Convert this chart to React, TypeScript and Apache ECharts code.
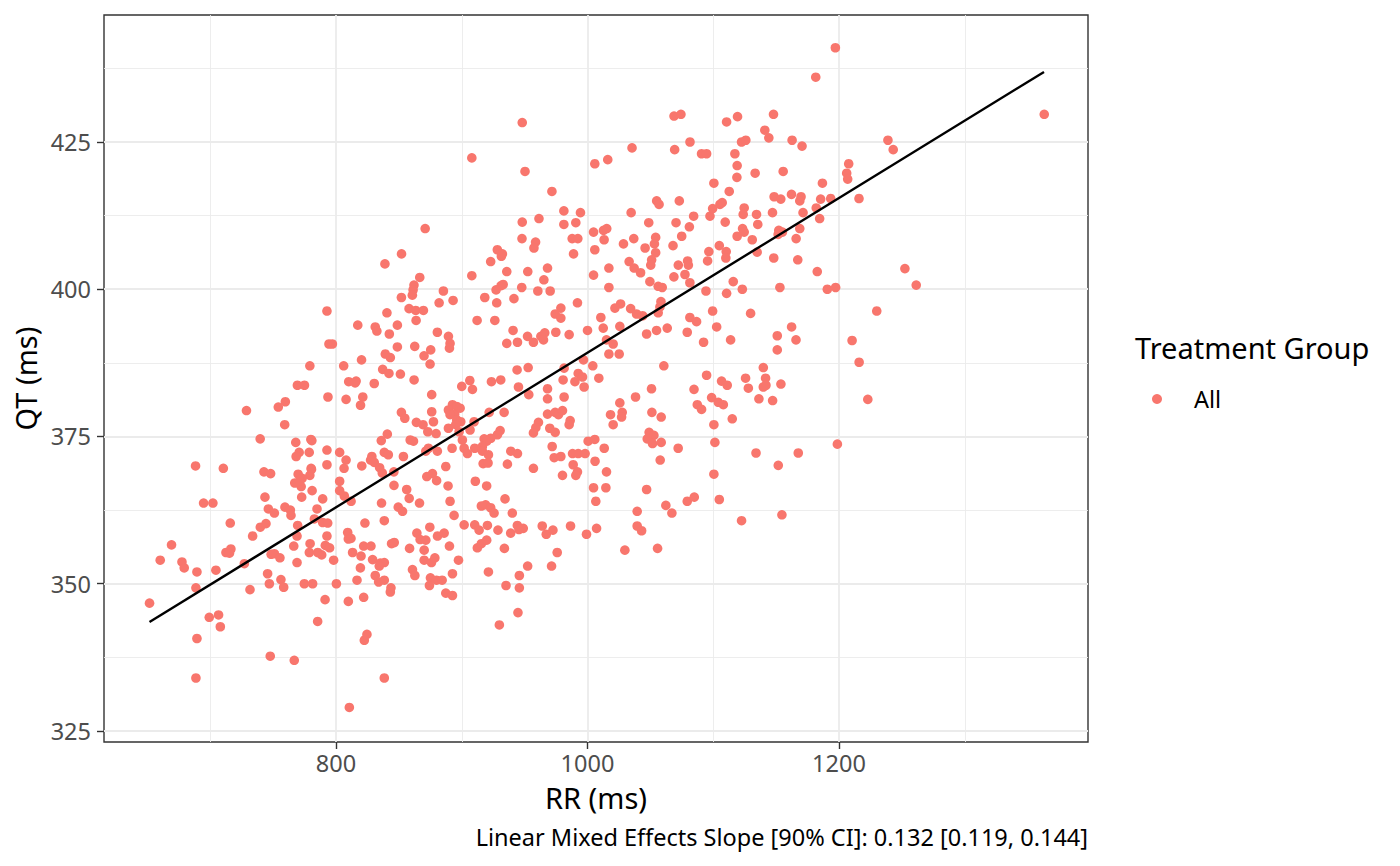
import React, { useEffect, useRef } from "react";
import * as echarts from "echarts";

const rrQtPairs: [number, number][] = [
  [948.1, 428.3], [908.0, 422.3], [950.3, 420.0], [971.7, 416.6], [870.9, 410.3], [981.2, 413.3], [994.4, 413.0],
  [948.1, 411.4], [961.4, 412.0], [981.2, 411.0], [990.7, 411.3], [947.9, 408.6], [987.8, 408.6], [992.3, 408.6],
  [958.7, 408.0], [957.4, 407.0], [852.1, 406.0], [838.9, 404.3], [928.3, 406.7], [932.3, 406.0], [931.5, 405.6],
  [923.0, 404.7], [988.9, 406.0], [1005.8, 421.3], [1004.8, 409.7], [1005.8, 406.7],
  [1197.1, 441.0], [1181.5, 436.0], [1068.8, 429.4], [1074.3, 429.7], [1119.3, 429.3], [1110.6, 428.4], [1147.9, 429.7],
  [1141.0, 427.0], [1144.2, 425.7], [1122.5, 425.0], [1125.9, 425.3], [1162.7, 425.3], [1170.6, 424.3], [1081.5, 425.0],
  [1035.4, 424.0], [1069.3, 423.7], [1016.1, 422.0], [1090.7, 423.0], [1094.7, 423.0], [1117.2, 423.0], [1119.0, 421.0],
  [1118.8, 419.0], [1133.3, 419.7], [1155.6, 420.0], [1100.5, 418.0], [1112.7, 416.6], [1186.8, 418.0], [1055.0, 415.0],
  [1056.9, 414.4], [1073.0, 415.0], [1148.4, 415.7], [1153.7, 415.3], [1162.2, 416.1], [1169.8, 415.7], [1168.8, 415.0],
  [1185.4, 415.3], [1193.4, 415.4], [1181.9, 413.8], [1184.6, 412.0], [1034.7, 413.0], [1048.7, 411.3], [1070.4, 411.3],
  [1084.4, 412.4], [1081.0, 410.6], [1097.4, 412.4], [1099.5, 413.7], [1105.3, 414.4], [1107.1, 414.7], [1124.6, 413.8],
  [1123.8, 412.7], [1134.4, 412.7], [1135.4, 411.0], [1109.5, 411.4], [1147.1, 413.0], [1171.4, 413.0], [1123.3, 410.3],
  [1124.6, 409.7], [1119.0, 409.0], [1131.0, 408.4], [1152.1, 410.0], [1155.0, 409.7], [1151.6, 409.3], [1168.8, 410.3],
  [1165.9, 408.6], [1012.7, 410.0], [1015.3, 410.3], [1013.2, 408.4], [1028.6, 407.7], [1036.8, 408.6], [1045.8, 407.0],
  [1054.2, 408.8], [1053.2, 407.7], [1054.2, 406.2], [1051.0, 405.0], [1068.0, 407.4], [1074.9, 409.0], [1104.8, 407.4],
  [1110.3, 406.4], [1110.0, 405.3], [1096.5, 406.4], [1095.5, 404.8], [1134.9, 406.3], [1148.1, 405.3], [1167.2, 405.0],
  [1033.1, 404.7], [1079.6, 404.8], [1080.2, 404.1], [1072.2, 404.1], [1050.3, 404.1],
  [1363.2, 429.7], [1238.9, 425.3], [1243.1, 423.7], [1207.7, 421.3], [1206.1, 419.7], [1206.9, 418.7], [1215.9, 415.4],
  [1252.4, 403.5],
  [852.0, 398.6], [792.8, 396.3], [840.5, 396.0], [817.3, 393.9], [831.2, 393.6], [832.5, 392.9], [842.4, 392.4],
  [848.8, 393.9], [794.4, 390.7], [797.1, 390.7], [848.8, 390.2], [839.2, 389.0], [843.2, 388.4], [820.3, 388.0],
  [779.2, 387.0], [806.1, 387.0], [837.1, 386.4], [842.1, 385.7], [851.2, 385.6], [810.1, 384.3], [816.0, 384.4],
  [815.2, 384.1], [830.4, 384.0], [769.3, 383.7], [774.9, 383.7], [793.6, 381.7], [808.0, 381.3], [821.3, 381.7],
  [819.5, 380.3], [759.7, 380.9], [754.1, 380.0], [728.8, 379.4], [852.0, 379.1], [759.2, 377.0], [840.8, 375.4],
  [836.0, 374.3], [739.7, 374.6], [780.0, 374.5], [780.8, 374.3], [768.0, 374.0], [778.7, 372.3], [770.7, 372.3],
  [768.3, 371.6], [792.8, 372.7], [802.9, 372.3], [808.0, 371.0], [806.4, 369.6], [838.4, 372.3], [841.6, 371.9],
  [828.5, 371.6], [827.5, 371.0], [830.4, 370.6], [834.7, 369.7], [836.8, 368.8], [820.5, 370.0], [688.3, 370.0],
  [710.4, 369.6], [742.7, 369.0], [748.0, 368.7], [780.2, 369.6], [792.8, 370.2], [780.5, 369.4], [779.2, 368.4],
  [769.9, 368.6], [773.1, 367.9], [767.2, 367.1], [772.3, 366.5], [771.2, 367.5], [802.9, 367.4], [781.0, 365.8],
  [802.9, 365.8], [846.1, 366.7], [846.0, 369.0],
  [866.6, 402.0], [862.0, 400.7], [861.3, 399.9], [860.7, 399.0], [885.4, 399.7], [882.0, 397.7], [893.1, 398.1],
  [858.1, 396.7], [863.4, 396.4], [869.5, 396.4], [863.7, 394.7], [908.0, 402.3], [935.8, 403.0], [952.5, 403.0],
  [968.2, 403.6], [1004.8, 402.4], [931.3, 400.6], [927.3, 399.9], [932.9, 400.8], [947.7, 400.3], [965.3, 401.6],
  [960.5, 399.7], [970.3, 399.7], [918.3, 398.6], [927.8, 397.7], [941.5, 398.4], [992.0, 397.7], [978.8, 396.8],
  [974.3, 395.8], [978.8, 395.1], [1010.6, 395.2], [912.2, 394.7], [926.3, 394.7], [880.6, 392.7], [889.4, 392.0],
  [890.7, 390.8], [890.2, 390.0], [862.6, 390.3], [875.3, 389.7], [870.0, 388.7], [874.8, 387.3], [940.8, 393.0],
  [935.8, 390.8], [944.3, 391.0], [952.3, 392.0], [957.0, 391.0], [962.9, 392.0], [966.0, 392.6], [965.0, 391.4],
  [974.8, 392.7], [985.4, 392.3], [1000.0, 393.0], [862.1, 384.6], [944.0, 386.3], [952.8, 386.7], [981.4, 386.6],
  [1004.2, 387.0], [996.8, 388.0], [992.6, 385.7], [996.0, 385.1], [990.0, 384.3], [997.3, 383.4], [980.6, 384.6],
  [1009.0, 384.9], [906.4, 384.5], [900.0, 383.5], [908.5, 383.0], [923.6, 384.3], [931.0, 384.6], [945.1, 383.4],
  [953.3, 382.1], [968.2, 383.1], [968.2, 381.4], [981.4, 381.7], [876.1, 382.1], [876.1, 379.2], [854.7, 378.1],
  [863.9, 377.4], [869.2, 377.0], [877.5, 377.5], [873.0, 375.8], [879.6, 375.5], [892.6, 380.4], [896.0, 380.1],
  [889.4, 379.5], [894.4, 378.8], [898.7, 379.8], [890.7, 378.7], [896.0, 377.8], [899.2, 377.5], [895.2, 377.0],
  [889.4, 376.4], [897.9, 375.8], [909.8, 377.5], [906.6, 376.1], [921.8, 379.1], [933.7, 379.1], [968.2, 378.8],
  [974.3, 379.1], [976.9, 378.7], [980.1, 379.4], [986.2, 377.7], [985.4, 377.0], [961.0, 377.4], [958.9, 376.5],
  [957.0, 375.6], [970.0, 376.4], [974.3, 375.7], [930.5, 376.0], [928.4, 375.3], [923.1, 374.7], [917.8, 374.6],
  [919.9, 374.2], [916.4, 373.3], [910.3, 373.0], [916.4, 372.5], [900.5, 374.4], [901.9, 373.0], [892.3, 373.0],
  [880.6, 372.5], [871.4, 372.5], [873.5, 373.0], [859.0, 374.4], [861.6, 374.2], [853.6, 371.6], [904.5, 372.1],
  [921.2, 371.9], [939.0, 372.5], [944.3, 372.1], [936.3, 370.3], [957.0, 369.6], [971.9, 373.3], [973.5, 371.4],
  [978.8, 371.6], [988.1, 372.1], [992.6, 372.1], [998.1, 372.1], [1000.5, 374.2], [1005.8, 374.5], [988.6, 370.2],
  [992.0, 369.0], [990.7, 368.4], [1006.0, 370.8], [980.1, 368.4], [1004.8, 366.3], [887.3, 369.9], [876.7, 368.7],
  [872.2, 368.2], [880.0, 367.5], [889.1, 366.6], [910.8, 367.4], [919.8, 366.6], [917.0, 370.4], [920.9, 370.5],
  [856.2, 366.0],
  [1017.0, 403.6], [1017.0, 400.3], [1037.1, 403.6], [1042.2, 402.8], [1049.6, 401.3], [1056.2, 400.5], [1059.4, 400.3],
  [1068.7, 402.1], [1077.5, 402.5], [1081.4, 401.1], [1094.2, 399.7], [1115.9, 401.3], [1110.6, 399.3], [1123.1, 400.0],
  [1153.0, 400.3], [1058.4, 397.9], [1057.6, 397.0], [1026.3, 397.5], [1021.8, 396.8], [1034.3, 396.7], [1039.0, 395.8],
  [1043.8, 395.5], [1056.2, 396.0], [1012.5, 393.4], [1025.7, 393.7], [1015.1, 391.4], [1020.4, 390.7], [1017.0, 389.0],
  [1025.2, 389.0], [1047.0, 392.4], [1054.9, 393.0], [1063.4, 393.4], [1079.3, 392.7], [1081.4, 395.2], [1086.7, 394.5],
  [1099.5, 396.3], [1102.7, 393.6], [1092.3, 391.0], [1113.8, 391.4], [1129.7, 395.9], [1150.9, 392.1], [1150.9, 389.7],
  [1162.3, 393.6], [1165.8, 391.4], [1060.7, 387.0], [1094.7, 385.4], [1084.7, 383.0], [1106.6, 384.4], [1111.1, 383.7],
  [1098.7, 381.6], [1104.0, 380.8], [1108.0, 380.4], [1087.3, 380.4], [1090.7, 379.6], [1115.1, 378.0], [1100.5, 377.0],
  [1050.9, 383.1], [1038.2, 381.7], [1025.7, 380.7], [1018.3, 378.7], [1027.6, 379.1], [1027.1, 378.3], [1020.4, 377.0],
  [1051.2, 379.1], [1058.6, 378.3], [1125.7, 384.9], [1127.9, 383.2], [1139.8, 386.7], [1141.6, 384.9], [1139.8, 383.4],
  [1141.9, 383.7], [1153.8, 383.9], [1136.3, 381.4], [1147.2, 381.1], [1049.0, 375.7], [1052.8, 375.2], [1047.5, 374.6],
  [1051.7, 373.8], [1058.6, 374.0], [1072.1, 373.0], [1101.3, 374.0], [1013.3, 373.0], [1057.8, 371.0], [1015.1, 369.0],
  [1014.6, 366.3], [1047.0, 366.0], [1100.5, 368.6], [1134.0, 372.2], [1151.7, 370.1], [1167.6, 372.2],
  [1182.7, 403.0], [1190.7, 400.0], [1197.3, 400.3], [1261.4, 400.7], [1230.0, 396.3], [1210.4, 391.3], [1216.0, 387.6],
  [1222.9, 381.3], [1198.7, 373.7],
  [694.7, 363.7], [702.1, 363.7], [743.5, 364.7], [772.7, 364.7], [789.4, 364.4], [806.6, 364.9], [812.0, 364.0],
  [746.2, 362.7], [751.0, 362.0], [759.4, 363.0], [763.7, 362.5], [764.2, 361.6], [784.9, 362.7], [782.8, 361.0],
  [715.9, 360.3], [739.8, 359.6], [744.3, 360.2], [769.5, 359.9], [789.4, 360.4], [793.4, 360.3], [669.2, 356.6],
  [660.2, 354.0], [677.5, 353.7], [679.3, 352.7], [689.4, 352.0], [688.6, 349.3], [704.5, 352.3], [712.5, 355.3],
  [716.4, 355.9], [715.3, 355.2], [727.1, 353.4], [733.7, 358.1], [751.0, 355.1], [748.4, 355.0], [755.4, 354.4],
  [745.6, 351.7], [747.0, 350.0], [756.2, 350.7], [758.4, 349.4], [769.0, 358.1], [766.4, 356.4], [769.0, 353.6],
  [779.4, 356.8], [778.8, 355.3], [785.5, 355.3], [788.6, 354.9], [791.5, 356.5], [794.9, 356.1], [792.8, 358.1],
  [798.1, 354.0], [774.8, 350.0], [781.4, 350.0], [800.3, 350.0], [791.3, 347.3], [785.4, 343.6], [731.6, 349.0],
  [651.7, 346.7], [699.2, 344.3], [706.6, 344.7], [708.0, 342.7], [689.4, 340.7], [747.7, 337.7], [766.8, 337.0],
  [688.6, 334.0], [810.6, 329.0], [809.3, 358.7], [809.8, 357.6], [811.9, 357.7], [813.2, 355.3], [819.9, 354.7],
  [816.7, 350.6], [809.8, 347.0], [819.4, 352.7], [823.0, 360.3], [822.0, 347.7], [822.5, 340.4],
  [822.0, 356.4], [827.8, 356.4], [824.6, 341.4], [838.4, 334.0], [836.2, 363.7], [838.4, 360.7], [849.5, 363.0],
  [852.9, 362.3], [858.2, 364.5], [866.4, 363.7], [890.7, 364.0], [893.9, 361.6], [844.2, 356.8], [846.3, 357.0],
  [858.5, 356.0], [864.3, 358.6], [866.9, 357.5], [871.4, 357.4], [874.6, 359.6], [880.7, 358.1], [886.0, 358.6],
  [870.1, 355.7], [870.1, 354.0], [875.9, 353.6], [878.6, 354.4], [890.2, 356.4], [897.4, 354.0], [860.8, 352.4],
  [862.7, 351.4], [875.1, 351.0], [874.3, 349.7], [879.9, 350.6], [884.4, 350.6], [892.6, 351.7], [887.3, 348.4],
  [892.6, 348.0], [829.1, 354.1], [835.2, 353.5], [838.4, 353.6], [834.4, 353.0], [831.2, 351.4], [833.9, 350.3],
  [838.4, 350.6], [843.7, 349.3], [843.2, 348.6], [901.9, 360.0], [910.3, 360.0], [913.8, 359.1], [920.4, 359.9],
  [915.6, 363.2], [919.0, 363.4], [923.0, 362.9], [925.7, 362.0], [934.4, 364.4], [940.2, 362.0], [928.8, 359.1],
  [938.9, 358.6], [944.2, 359.9], [948.9, 359.4], [945.5, 359.2], [964.0, 359.8], [967.2, 358.4], [972.5, 359.1],
  [986.5, 359.8], [999.2, 358.4], [912.4, 356.1], [915.6, 356.8], [919.8, 357.4], [933.9, 356.0], [975.9, 355.3],
  [921.2, 352.0], [952.4, 353.0], [971.4, 353.0], [945.8, 351.4], [945.8, 349.3], [935.2, 349.7], [944.7, 345.1],
  [929.9, 343.0],
  [1006.6, 364.0], [1039.5, 362.3], [1062.3, 363.3], [1067.1, 362.0], [1079.3, 364.0], [1084.9, 364.7], [1104.8, 364.3],
  [1122.5, 360.7], [1154.6, 361.7], [1007.2, 359.4], [1039.5, 359.8], [1043.0, 359.0], [1029.7, 355.7], [1055.7, 356.0],
];

// Fitted regression line end points (RR, QT)
const fitRR = [651.7, 1363.0];
const fitQT = [343.5, 436.9];

// Axes
const xRange = [615.5, 1398.0];
const yRange = [323.13, 446.56];
const xMajorTicks = [800, 1000, 1200];
const xMinorGrid = [700, 900, 1100, 1300];
const yMajorTicks = [325, 350, 375, 400, 425];
const yMinorGrid = [337.5, 362.5, 387.5, 412.5, 437.5];

const xTitle = "RR (ms)";
const yTitle = "QT (ms)";
const groupName = "All";
const legendTitle = "Treatment Group";
const caption = "Linear Mixed Effects Slope [90% CI]: 0.132 [0.119, 0.144]";

const FONT = '"Noto Sans", "Open Sans", sans-serif';
const POINT_COLOR = "#F8766D";
const GRID_COLOR = "#EBEBEB";

export default function App() {
  const ref = useRef<HTMLDivElement>(null);

  useEffect(() => {
    if (!ref.current) return;
    const chart = echarts.init(ref.current, undefined, { renderer: "svg" });

    const gridLineSeries = (values: number[], axis: "xAxis" | "yAxis", width: number) => ({
      type: "scatter",
      data: [],
      silent: true,
      z: 1,
      markLine: {
        silent: true,
        z: 1,
        symbol: ["none", "none"],
        label: { show: false },
        emphasis: { disabled: true },
        lineStyle: { color: GRID_COLOR, width, type: "solid" },
        data: values.map((v) => ({ [axis]: v })),
        animation: false,
      },
    });

    const option: any = {
      animation: false,
      backgroundColor: "#ffffff",
      grid: {
        left: 104,
        top: 15,
        width: 984,
        height: 727,
        show: true,
        backgroundColor: "#ffffff",
        borderColor: "#333333",
        borderWidth: 1.4,
      },
      xAxis: {
        type: "value",
        min: xRange[0],
        max: xRange[1],
        name: xTitle,
        nameLocation: "middle",
        nameGap: 41,
        nameTextStyle: { fontFamily: FONT, fontSize: 29, color: "#000000" },
        axisLine: { show: false, onZero: false },
        axisTick: {
          show: true,
          length: 7,
          customValues: xMajorTicks,
          lineStyle: { color: "#333333", width: 1.4 },
        },
        axisLabel: {
          customValues: xMajorTicks,
          formatter: (v: number) => String(v),
          margin: 9,
          fontFamily: FONT,
          fontSize: 23.5,
          color: "#4D4D4D",
        },
        splitLine: { show: false },
      },
      yAxis: {
        type: "value",
        min: yRange[0],
        max: yRange[1],
        name: yTitle,
        nameLocation: "middle",
        nameGap: 63,
        nameTextStyle: { fontFamily: FONT, fontSize: 29, color: "#000000" },
        axisLine: { show: false, onZero: false },
        axisTick: {
          show: true,
          length: 7,
          customValues: yMajorTicks,
          lineStyle: { color: "#333333", width: 1.4 },
        },
        axisLabel: {
          customValues: yMajorTicks,
          formatter: (v: number) => String(v),
          margin: 13,
          fontFamily: FONT,
          fontSize: 23.5,
          color: "#4D4D4D",
        },
        splitLine: { show: false },
      },
      legend: {
        data: [groupName],
        orient: "vertical",
        left: 1147,
        top: 382,
        icon: "circle",
        itemWidth: 64,
        itemHeight: 10,
        selectedMode: false,
        textStyle: { fontFamily: FONT, fontSize: 23.5, color: "#000000" },
      },
      graphic: [
        {
          type: "text",
          left: 1135,
          top: 333,
          style: { text: legendTitle, font: `29px ${FONT}`, fill: "#000000" },
        },
        {
          type: "text",
          right: 312,
          top: 825,
          style: { text: caption, font: `23.5px ${FONT}`, fill: "#000000" },
        },
      ],
      series: [
        gridLineSeries(xMinorGrid, "xAxis", 0.9),
        gridLineSeries(yMinorGrid, "yAxis", 0.9),
        gridLineSeries(xMajorTicks, "xAxis", 1.8),
        gridLineSeries(yMajorTicks, "yAxis", 1.8),
        {
          name: groupName,
          type: "scatter",
          z: 3,
          symbol: "circle",
          symbolSize: 9.6,
          itemStyle: { color: POINT_COLOR, opacity: 1 },
          emphasis: { disabled: true },
          data: rrQtPairs,
        },
        {
          type: "line",
          z: 10,
          symbol: "none",
          silent: true,
          lineStyle: { color: "#000000", width: 2.4 },
          data: fitRR.map((x, i) => [x, fitQT[i]]),
        },
      ],
    };

    chart.setOption(option);
    return () => chart.dispose();
  }, []);

  return (
    <div
      ref={ref}
      style={{ position: "fixed", left: 0, top: 0, width: 1400, height: 866, background: "#ffffff" }}
    />
  );
}
